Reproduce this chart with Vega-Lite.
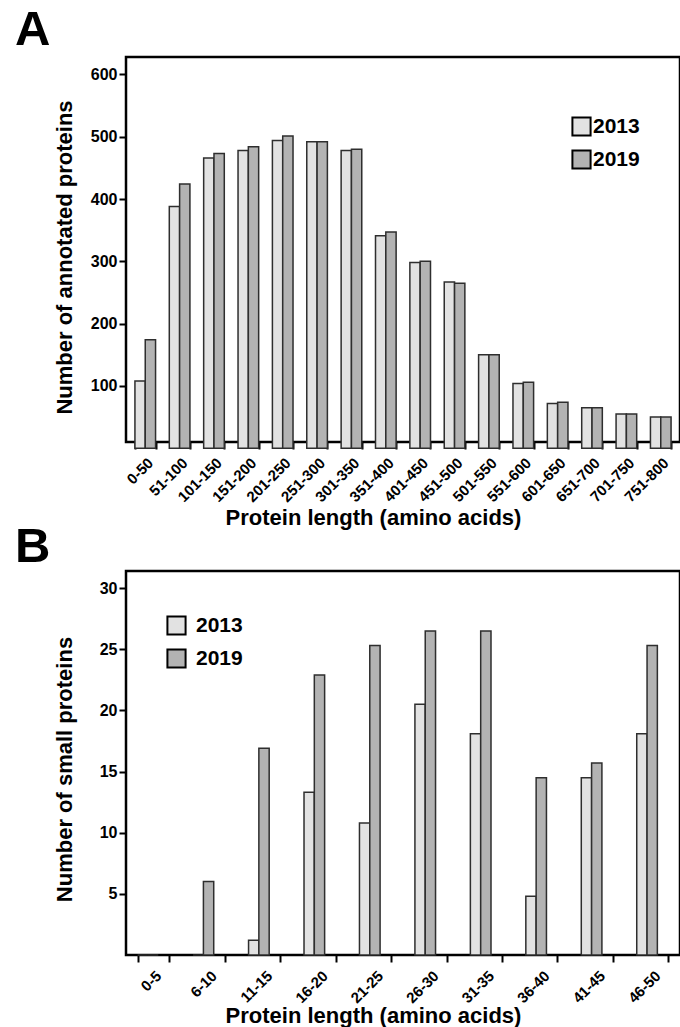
{
  "$schema": "https://vega.github.io/schema/vega-lite/v6.json",
  "padding": {"left": 13, "top": 4, "right": 0, "bottom": 0},
  "background": "white",
  "datasets": {
    "a": [
      {"len": "0-50", "year": "2013", "n": 108}, {"len": "0-50", "year": "2019", "n": 174},
      {"len": "51-100", "year": "2013", "n": 388}, {"len": "51-100", "year": "2019", "n": 424},
      {"len": "101-150", "year": "2013", "n": 466}, {"len": "101-150", "year": "2019", "n": 473},
      {"len": "151-200", "year": "2013", "n": 478}, {"len": "151-200", "year": "2019", "n": 484},
      {"len": "201-250", "year": "2013", "n": 494}, {"len": "201-250", "year": "2019", "n": 501},
      {"len": "251-300", "year": "2013", "n": 492}, {"len": "251-300", "year": "2019", "n": 492},
      {"len": "301-350", "year": "2013", "n": 478}, {"len": "301-350", "year": "2019", "n": 480},
      {"len": "351-400", "year": "2013", "n": 341}, {"len": "351-400", "year": "2019", "n": 347},
      {"len": "401-450", "year": "2013", "n": 298}, {"len": "401-450", "year": "2019", "n": 300},
      {"len": "451-500", "year": "2013", "n": 267}, {"len": "451-500", "year": "2019", "n": 265},
      {"len": "501-550", "year": "2013", "n": 150}, {"len": "501-550", "year": "2019", "n": 150},
      {"len": "551-600", "year": "2013", "n": 104}, {"len": "551-600", "year": "2019", "n": 106},
      {"len": "601-650", "year": "2013", "n": 72}, {"len": "601-650", "year": "2019", "n": 74},
      {"len": "651-700", "year": "2013", "n": 65}, {"len": "651-700", "year": "2019", "n": 65},
      {"len": "701-750", "year": "2013", "n": 55}, {"len": "701-750", "year": "2019", "n": 55},
      {"len": "751-800", "year": "2013", "n": 50}, {"len": "751-800", "year": "2019", "n": 50}
    ],
    "b": [
      {"len": "0-5", "year": "2013", "n": 0}, {"len": "0-5", "year": "2019", "n": 0},
      {"len": "6-10", "year": "2013", "n": 0}, {"len": "6-10", "year": "2019", "n": 6.0},
      {"len": "11-15", "year": "2013", "n": 1.2}, {"len": "11-15", "year": "2019", "n": 16.9},
      {"len": "16-20", "year": "2013", "n": 13.3}, {"len": "16-20", "year": "2019", "n": 22.9},
      {"len": "21-25", "year": "2013", "n": 10.8}, {"len": "21-25", "year": "2019", "n": 25.3},
      {"len": "26-30", "year": "2013", "n": 20.5}, {"len": "26-30", "year": "2019", "n": 26.5},
      {"len": "31-35", "year": "2013", "n": 18.1}, {"len": "31-35", "year": "2019", "n": 26.5},
      {"len": "36-40", "year": "2013", "n": 4.8}, {"len": "36-40", "year": "2019", "n": 14.5},
      {"len": "41-45", "year": "2013", "n": 14.5}, {"len": "41-45", "year": "2019", "n": 15.7},
      {"len": "46-50", "year": "2013", "n": 18.1}, {"len": "46-50", "year": "2019", "n": 25.3}
    ]
  },
  "bounds": "flush",
  "spacing": 129,
  "resolve": {
    "scale": {"color": "independent", "x": "independent", "y": "independent"},
    "legend": {"color": "independent"}
  },
  "vconcat": [
    {
      "title": {"text": "A", "dx": -111, "offset": 2},
      "width": 554,
      "height": 385,
      "data": {"name": "a"},
      "mark": {"type": "bar", "stroke": "#2e2e2e", "strokeWidth": 1.5},
      "encoding": {
        "x": {
          "field": "len", "type": "nominal", "sort": null,
          "scale": {"paddingInner": 0.4, "paddingOuter": 0.26},
          "axis": {
            "title": "Protein length (amino acids)",
            "labelAngle": -45, "labelFontSize": 15, "labelPadding": 6,
            "tickBand": "extent",
            "titleX": 247, "titleY": 82, "titleBaseline": "alphabetic", "titleAlign": "center"
          }
        },
        "xOffset": {"field": "year", "type": "nominal", "scale": {"paddingInner": 0, "paddingOuter": 0}},
        "y": {
          "field": "n", "type": "quantitative",
          "scale": {"domain": [10, 628], "nice": false, "zero": false},
          "axis": {
            "title": "Number of annotated proteins",
            "values": [100, 200, 300, 400, 500, 600],
            "labelPadding": 2,
            "titleX": -55, "titleY": 200, "titleBaseline": "alphabetic", "titleAlign": "center"
          }
        },
        "color": {
          "field": "year", "type": "nominal",
          "scale": {"domain": ["2013", "2019"], "range": ["#e2e2e2", "#b3b3b3"]},
          "legend": {"title": null, "orient": "none", "legendX": 445, "legendY": 59, "labelOffset": 1}
        }
      }
    },
    {
      "title": {"text": "B", "dx": -111, "offset": -1},
      "width": 554,
      "height": 384,
      "data": {"name": "b"},
      "mark": {"type": "bar", "stroke": "#2e2e2e", "strokeWidth": 1.5},
      "encoding": {
        "x": {
          "field": "len", "type": "nominal", "sort": null,
          "scale": {"paddingInner": 0.43, "paddingOuter": 0.21},
          "axis": {
            "title": "Protein length (amino acids)",
            "labelAngle": -45, "labelFontSize": 15, "labelPadding": 6,
            "tickBand": "extent",
            "titleX": 247, "titleY": 67, "titleBaseline": "alphabetic", "titleAlign": "center"
          }
        },
        "xOffset": {"field": "year", "type": "nominal", "scale": {"paddingInner": 0, "paddingOuter": 0}},
        "y": {
          "field": "n", "type": "quantitative",
          "scale": {"domain": [0, 31.4], "nice": false},
          "axis": {
            "title": "Number of small proteins",
            "values": [5, 10, 15, 20, 25, 30],
            "labelPadding": 2,
            "titleX": -55, "titleY": 198, "titleBaseline": "alphabetic", "titleAlign": "center"
          }
        },
        "color": {
          "field": "year", "type": "nominal",
          "scale": {"domain": ["2013", "2019"], "range": ["#e2e2e2", "#b3b3b3"]},
          "legend": {"title": null, "orient": "none", "legendX": 40, "legendY": 44, "labelOffset": 9}
        }
      }
    }
  ],
  "config": {
    "font": "Liberation Sans, Arial, sans-serif",
    "view": {"stroke": "#000", "strokeWidth": 2.5},
    "title": {"font": "Liberation Sans, Arial, sans-serif", "fontWeight": "bold", "fontSize": 49, "anchor": "start", "frame": "group", "color": "#000", "baseline": "alphabetic"},
    "axis": {
      "labelFont": "Liberation Sans, Arial, sans-serif", "labelFontWeight": "bold", "labelColor": "#000", "labelFontSize": 16,
      "titleFont": "Liberation Sans, Arial, sans-serif", "titleFontWeight": "bold", "titleFontSize": 22, "titleColor": "#000",
      "domain": false, "ticks": true, "tickColor": "#000", "tickWidth": 2, "tickSize": 7, "grid": false,
      "labelOverlap": false, "labelBound": false
    },
    "legend": {
      "labelFont": "Liberation Sans, Arial, sans-serif", "labelFontWeight": "bold", "labelFontSize": 21, "labelColor": "#000",
      "symbolType": "square", "symbolSize": 330, "symbolStrokeColor": "#000", "symbolStrokeWidth": 2,
      "padding": 0, "rowPadding": 6
    }
  }
}
